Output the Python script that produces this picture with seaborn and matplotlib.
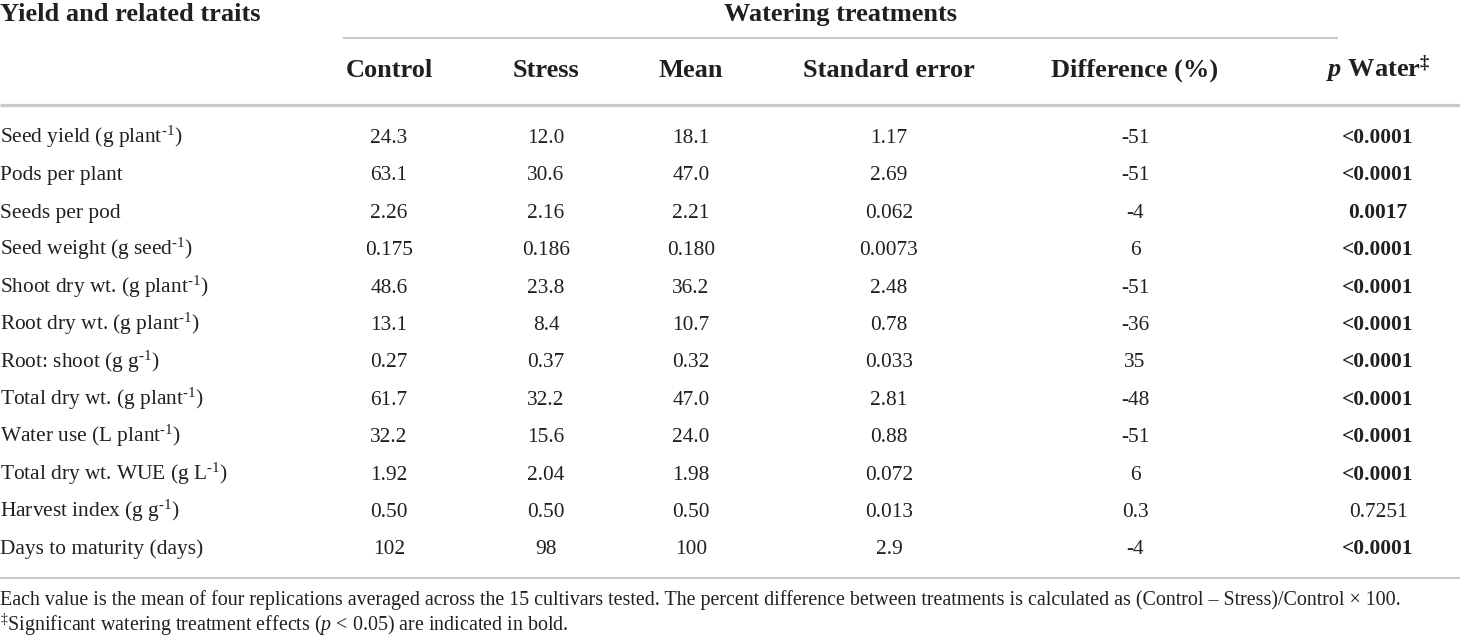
import matplotlib
matplotlib.use("Agg")
import matplotlib.pyplot as plt
import seaborn as sns

# table contents
traits = ["Seed yield", "Pods per plant", "Seeds per pod", "Seed weight", "Shoot dry wt.",
          "Root dry wt.", "Root: shoot", "Total dry wt.", "Water use", "Total dry wt. WUE",
          "Harvest index", "Days to maturity"]
units = ["g plant", "", "", "g seed", "g plant", "g plant", "g g", "g plant", "L plant",
         "g L", "g g", "days"]
per_unit = [True, False, False, True, True, True, True, True, True, True, True, False]
control = ["24.3", "63.1", "2.26", "0.175", "48.6", "13.1", "0.27", "61.7", "32.2", "1.92", "0.50", "102"]
stress = ["12.0", "30.6", "2.16", "0.186", "23.8", "8.4", "0.37", "32.2", "15.6", "2.04", "0.50", "98"]
mean = ["18.1", "47.0", "2.21", "0.180", "36.2", "10.7", "0.32", "47.0", "24.0", "1.98", "0.50", "100"]
std_err = ["1.17", "2.69", "0.062", "0.0073", "2.48", "0.78", "0.033", "2.81", "0.88", "0.072", "0.013", "2.9"]
difference = ["-51", "-51", "-4", "6", "-51", "-36", "35", "-48", "-51", "6", "0.3", "-4"]
p_water = ["<0.0001", "<0.0001", "0.0017", "<0.0001", "<0.0001", "<0.0001",
           "<0.0001", "<0.0001", "<0.0001", "<0.0001", "0.7251", "<0.0001"]

col_headers = ["Control", "Stress", "Mean", "Standard error", "Difference (%)"]
footnote_1 = ("Each value is the mean of four replications averaged across the 15 cultivars tested. "
              "The percent difference between treatments is calculated as (Control \u2013 Stress)/Control \u00d7 100.")
footnote_2 = "$^{\\mathregular{\u2021}}$Significant watering treatment effects ($p$ < 0.05) are indicated in bold."

sns.set_theme(style="white")
plt.rcParams["font.family"] = ["Liberation Serif", "DejaVu Serif"]
plt.rcParams["mathtext.fontset"] = "custom"
plt.rcParams["mathtext.rm"] = "Liberation Serif"
plt.rcParams["mathtext.it"] = "Liberation Serif:italic"
plt.rcParams["mathtext.bf"] = "Liberation Serif:bold"
plt.rcParams["mathtext.bfit"] = "Liberation Serif:bold:italic"

ink = "#231f20"
rule = "#c9c9c9"
fs = 15.4
fs_head = 19


def trait_label(name, unit, per):
    if not unit:
        return name
    if per:
        # hyphen (not minus) in the exponent, like the source table
        return name + " (" + unit + "$^{\\mathregular{\u20101}}$)"
    return name + " (" + unit + ")"


fig = plt.figure(figsize=(14.6, 6.42), dpi=100)
ax = fig.add_axes([0, 0, 1, 1])
ax.set_xlim(0, 1460)
ax.set_ylim(642, 0)
ax.axis("off")

# header
ax.text(0, 21, "Yield and related traits", ha="left", va="baseline",
        fontsize=fs_head, fontweight="bold", color=ink)
ax.text(840, 21, "Watering treatments", ha="center", va="baseline",
        fontsize=fs_head, fontweight="bold", color=ink)
ax.plot([343, 1338], [38, 38], color=rule, lw=1.5, solid_capstyle="butt")

col_x = [389, 546, 691, 889, 1135]
p_x = 1378
for x, h in zip(col_x, col_headers):
    ax.text(x, 77, h, ha="center", va="baseline", fontsize=fs_head, fontweight="bold", color=ink)
ax.text(p_x, 77, "$\\mathbfit{p}$ Water$^{\\mathbf{\u2021}}$", ha="center", va="baseline",
        fontsize=fs_head, fontweight="bold", color=ink)

ax.plot([0, 1460], [105, 105], color=rule, lw=2.3, solid_capstyle="butt")

# rows
y0, step = 143, 37.4
columns = [control, stress, mean, std_err, difference]
for i in range(len(traits)):
    y = y0 + i * step
    ax.text(0, y, trait_label(traits[i], units[i], per_unit[i]), ha="left", va="baseline",
            fontsize=fs, color=ink)
    for x, col in zip(col_x, columns):
        ax.text(x, y, col[i], ha="center", va="baseline", fontsize=fs, color=ink)
    pv = p_water[i]
    bold = pv.startswith("<") or float(pv) < 0.05
    ax.text(p_x, y, pv, ha="center", va="baseline", fontsize=fs,
            fontweight="bold" if bold else "normal", color=ink)

ax.plot([0, 1460], [578, 578], color=rule, lw=1.5, solid_capstyle="butt")

# footnotes, first line sized to run across the table width
fn_size = 12.0
t1 = ax.text(0, 605, footnote_1, ha="left", va="baseline", fontsize=fn_size, color=ink)
renderer = fig.canvas.get_renderer()
w = t1.get_window_extent(renderer).width
fn_size = fn_size * 1397 / w
t1.set_fontsize(fn_size)
ax.text(0, 631, footnote_2, ha="left", va="baseline", fontsize=fn_size, color=ink)

fig.savefig("out.png", dpi=100, facecolor="white")
